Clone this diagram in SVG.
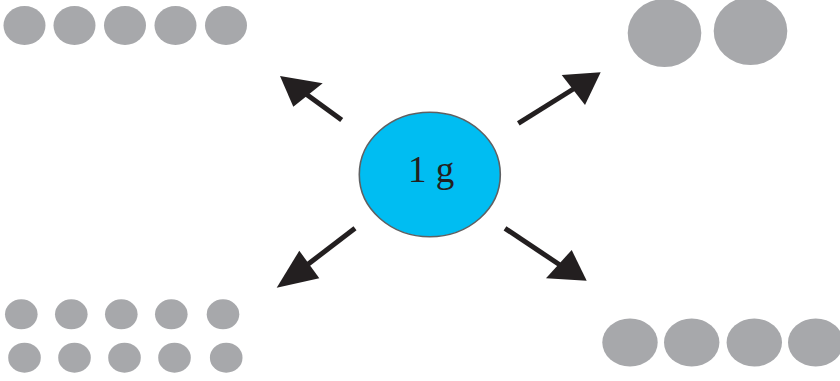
<svg xmlns="http://www.w3.org/2000/svg" width="840" height="381" viewBox="0 0 840 381">
<style>
.dot{fill:#a7a8ab}
.arr{stroke:#231f20;stroke-width:5;fill:none}
.head{fill:#231f20}
.lbl{font-family:"Liberation Serif","Times New Roman",serif;font-size:37px;fill:#231f20}
</style>
<rect width="840" height="381" fill="#fff"/>
<g id="group-top-left">
<ellipse class="dot" cx="24.5" cy="25.5" rx="21" ry="19.5"/>
<ellipse class="dot" cx="74.5" cy="25.5" rx="21" ry="19.5"/>
<ellipse class="dot" cx="125" cy="25.5" rx="21" ry="19.5"/>
<ellipse class="dot" cx="175.5" cy="25.5" rx="21" ry="19.5"/>
<ellipse class="dot" cx="226" cy="25.5" rx="21" ry="19.5"/>
</g>
<g id="group-top-right">
<ellipse class="dot" cx="664.5" cy="33" rx="36.8" ry="34"/>
<ellipse class="dot" cx="750.5" cy="31" rx="36.8" ry="34"/>
</g>
<g id="group-bottom-left">
<ellipse class="dot" cx="21.3" cy="314.3" rx="16.3" ry="15"/>
<ellipse class="dot" cx="71.3" cy="314.3" rx="16.3" ry="15"/>
<ellipse class="dot" cx="121.3" cy="314.3" rx="16.3" ry="15"/>
<ellipse class="dot" cx="171.3" cy="314.3" rx="16.3" ry="15"/>
<ellipse class="dot" cx="223" cy="314.3" rx="16.3" ry="15"/>
<ellipse class="dot" cx="24.5" cy="357.7" rx="16.3" ry="15"/>
<ellipse class="dot" cx="74.5" cy="357.7" rx="16.3" ry="15"/>
<ellipse class="dot" cx="124.5" cy="357.7" rx="16.3" ry="15"/>
<ellipse class="dot" cx="174.5" cy="357.7" rx="16.3" ry="15"/>
<ellipse class="dot" cx="226.2" cy="357.7" rx="16.3" ry="15"/>
</g>
<g id="group-bottom-right">
<ellipse class="dot" cx="630" cy="342.5" rx="27.7" ry="24"/>
<ellipse class="dot" cx="691.7" cy="342.5" rx="27.7" ry="24"/>
<ellipse class="dot" cx="754.3" cy="342.5" rx="27.7" ry="24"/>
<ellipse class="dot" cx="815.7" cy="342.5" rx="27.7" ry="24"/>
</g>
<g id="center">
<ellipse cx="429.8" cy="174.5" rx="70.5" ry="62.2" fill="#00bdf2" stroke="#5f6062" stroke-width="1.6"/>
<text class="lbl" x="431" y="182" text-anchor="middle">1 g</text>
</g>
<g id="connectors">
<line class="arr" x1="341.7" y1="120" x2="306" y2="94"/>
<polygon class="head" points="280,76 293.3,106.7 322.7,83.3"/>
<line class="arr" x1="518.3" y1="123.3" x2="575" y2="88"/>
<polygon class="head" points="600.7,72.3 561.7,75 585,105"/>
<line class="arr" x1="355" y1="228.3" x2="307" y2="265"/>
<polygon class="head" points="276.7,287.7 299.3,250.7 319.3,278.3"/>
<line class="arr" x1="505" y1="228.3" x2="560" y2="265"/>
<polygon class="head" points="586.7,280.7 571.7,250 546,278.3"/>
</g>
</svg>
